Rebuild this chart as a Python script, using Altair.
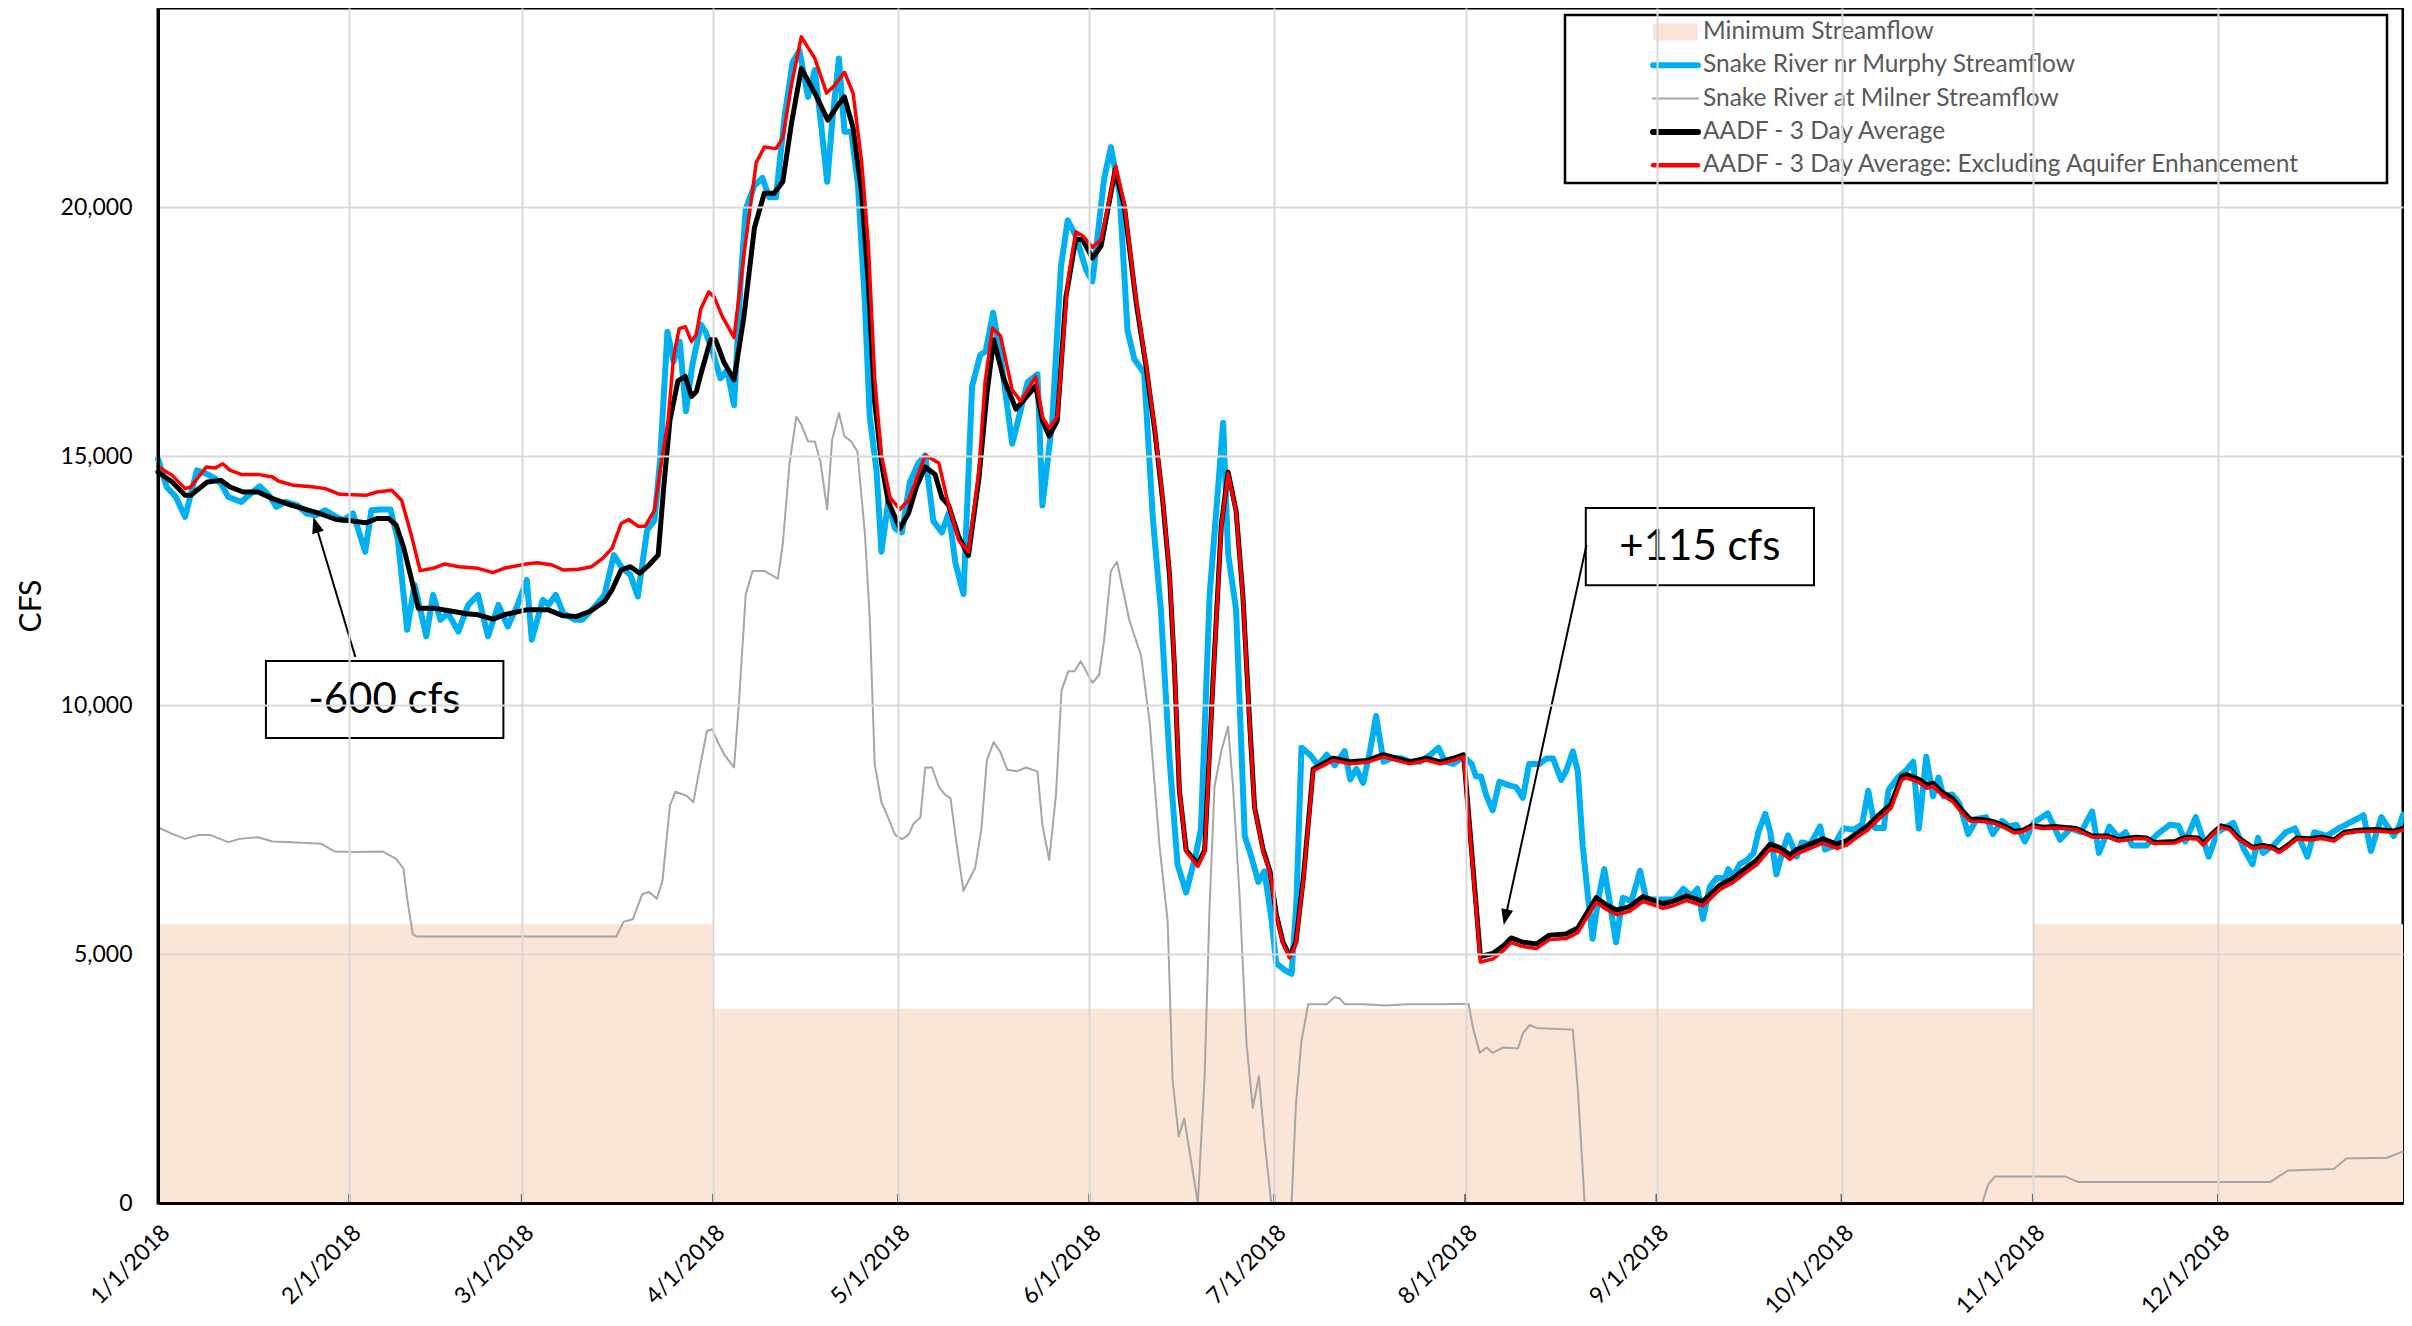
import math
import altair as alt
import pandas as pd

BASE = pd.Timestamp("2018-01-01")

# ---------------- series definitions ----------------
series_names = [
    "Minimum Streamflow",
    "Snake River nr Murphy Streamflow",
    "Snake River at Milner Streamflow",
    "AADF - 3 Day Average",
    "AADF - 3 Day Average: Excluding Aquifer Enhancement",
]
series_colors = ["#FBE5D6", "#00B0F0", "#A6A6A6", "#000000", "#FF0000"]
line_widths = [0, 6, 2, 5, 3.5]
legend_widths = [17, 6, 2, 6, 4.5]

# Minimum streamflow (step)
min_days = [0, 90, 304, 364]
min_vals = [5600, 3900, 5600, 5600]

# Snake River nr Murphy (blue)
murphy_days = [0, 1.4, 2.9, 4.4, 6.3, 7.8, 9.3, 10.2, 11.4, 13.5, 14.7, 16.5, 18, 19.2, 20.7, 22.6, 24.1, 25.6,
               27.1, 28.9, 30.1, 31.6, 32.5, 33.6, 34.6, 36.1, 37.7, 38.9, 40.4, 41.6, 43.5, 44.6, 45.8, 47, 48.7,
               50.3, 51.9, 53.5, 55.2, 56.7, 58.2, 59.8, 60.6, 62.4, 63.3, 64.5, 65.7, 67.6, 68.8, 70.6, 72.4, 73.9,
               75.1, 76.6, 77.8, 79.3, 80.5, 81.4, 82.6, 83.6, 84.6, 85.6, 86.6, 88, 88.8, 89.9, 91.2, 92.3, 93.4,
               94.5, 95.3, 96.7, 98, 99.1, 100.2, 101.6, 102.9, 104, 105.4, 106.5, 107.5, 108.5, 109.4, 110.4, 111.3,
               112.4, 113.5, 114.6, 115.4, 116.5, 117.3, 118.4, 119.5, 120.6, 121.9, 123.3, 124.4, 125.7, 127.1,
               128.2, 129.3, 130.6, 132, 133.3, 134.2, 135.4, 136.6, 138.5, 139.6, 141, 142.6, 143.4, 145, 146.4,
               147.5, 148.8, 150.5, 151.5, 153.4, 154.5, 155.9, 157.2, 158.3, 159.9, 161.3, 162.6, 164, 165.3, 166.7,
               168.3, 169.1, 170.5, 171.9, 172.7, 173.5, 174.8, 176.2, 177.3, 178.4, 179.4, 180.5, 181.3, 182.7,
               183.8, 184.6, 185.4, 186.8, 188.1, 189.5, 190.8, 192.4, 193.3, 194.3, 195.4, 196.5, 197.5, 198.7,
               200, 201.6, 203, 204.6, 206.3, 207.6, 208.7, 210, 211.7, 213, 213.7, 214.5, 215.4, 216.4, 217.5,
               219.1, 220.2, 221.3, 222.3, 224, 225.1, 226.2, 227.5, 228.3, 229.4, 230.2, 231, 231.9, 232.6, 233.5,
               234.5, 235.4, 236.4, 237.5, 238.9, 240.3, 241.3, 243, 244.3, 245.9, 247.3, 248.6, 249.6, 250.5,
               251.6, 252.7, 254.1, 254.6, 255.4, 256.5, 257.6, 258.7, 259.5, 260.6, 261.4, 262.4, 263.5, 264.3,
               265.7, 266.5, 267.9, 269.5, 270.3, 271.7, 273.3, 274.9, 276.3, 277.3, 278.4, 279.8, 280.6, 282.1,
               283.5, 284.6, 285.5, 286.7, 287.8, 288.7, 289.5, 290.9, 292.1, 293.5, 294.9, 296.4, 297.5, 299,
               300.1, 301.3, 302.7, 304.1, 306.4, 308.4, 310.1, 311.8, 313.6, 314.7, 316.4, 317.9, 319, 320.1,
               322.4, 324.2, 326.2, 327.6, 328.7, 330.4, 332.5, 333.9, 336.5, 338.2, 339.6, 340.5, 341.3, 343, 345,
               346.5, 348.5, 349.6, 351.6, 353.6, 356.5, 357.6, 358.8, 360.5, 362.5, 363.5, 364]
murphy_vals = [14950, 14380, 14180, 13780, 14713, 14647, 14547, 14447, 14180, 14080, 14213, 14393, 14213, 13980,
               14080, 14013, 13847, 13813, 13913, 13780, 13713, 13847, 13513, 13080, 13913, 13927, 13927, 13313,
               11513, 12413, 11380, 12213, 11713, 11847, 11480, 12013, 12213, 11380, 12013, 11580, 11980, 12513,
               11313, 12113, 12013, 12213, 11847, 11713, 11713, 11947, 12213, 13013, 12780, 12613, 12180, 13513,
               13713, 14913, 17500, 16900, 17300, 15900, 16800, 17647, 17492, 17105, 16563, 16718, 16022, 18576,
               19969, 20433, 20588, 20201, 20201, 21827, 22910, 23143, 22214, 22755, 21672, 20511, 21827, 22988,
               21517, 21517, 20433, 18111, 15790, 14706, 13081, 14087, 13545, 13467, 14474, 14861, 15016, 13700,
               13467, 13855, 12848, 12229, 16409, 17028, 17105, 17879, 17028, 15248, 15790, 16486, 16641, 14009,
               15712, 18808, 19737, 19427, 18731, 18510, 20568, 21206, 20284, 17517, 16949, 16665, 13756, 11911,
               8931, 6803, 6236, 7016, 7513, 12196, 14395, 15672, 13047, 11911, 7371, 6945, 6449, 6661, 5739, 4817,
               4675, 4604, 6094, 9145, 9003, 8790, 9003, 8790, 9074, 8506, 8719, 8435, 9074, 9783, 8861, 8932, 8932,
               8861, 8861, 9003, 9145, 8861, 8818, 8960, 8818, 8567, 8567, 8173, 7887, 8460, 8388, 8353, 8138, 8818,
               8818, 8926, 8926, 8496, 8675, 9069, 8675, 7171, 6096, 5308, 6096, 6705, 6025, 5237, 6132, 6060, 6669,
               6096, 6096, 6096, 6096, 6311, 6168, 6311, 5702, 6347, 6526, 6526, 6705, 6562, 6812, 6884, 7027, 7457,
               7815, 7457, 6598, 7099, 7385, 6956, 7242, 7206, 7564, 7099, 7171, 7529, 7493, 7600, 8281, 7529, 7529,
               8300, 8545, 8697, 8863, 7523, 8962, 8167, 8545, 8167, 8205, 8015, 7409, 7712, 7750, 7409, 7674, 7561,
               7598, 7258, 7636, 7826, 7295, 7523, 7447, 7864, 7030, 7561, 7333, 7447, 7182, 7182, 7409, 7598, 7576,
               7258, 7750, 6955, 7447, 7636, 7106, 6803, 7333, 7030, 7182, 7447, 7523, 6955, 7447, 7371, 7523, 7712,
               7788, 7068, 7750, 7371, 7598, 7800]

# Snake River at Milner (gray)
milner_days = [0, 2.3, 4.4, 6.6, 8.4, 11.4, 13.2, 16.2, 18.6, 21.7, 26.5, 28.6, 32.5, 36.4, 38.6, 39.8, 40.4, 41.3,
               42, 74.3, 75.5, 77, 78.5, 79.6, 80.9, 81.8, 83, 83.9, 85.7, 86.8, 87.8, 89, 89.9, 90.8, 91.8, 93.4,
               94.2, 95.3, 96.4, 98.3, 100.5, 101.3, 102.4, 103.5, 104.3, 105.4, 106.5, 107.4, 108.5, 109.3, 110.4,
               111.3, 112.4, 113.4, 114.6, 115.4, 116.2, 117.3, 118.4, 119.5, 120.6, 121.7, 122.5, 123.6, 124.4,
               125.5, 126.6, 127.6, 128.5, 129.5, 130.6, 132.5, 133.5, 134.4, 135.5, 136.6, 137.7, 139.3, 140.7,
               142.6, 143.4, 144.5, 145.6, 146.5, 147.6, 148.6, 149.6, 151.5, 152.6, 153.4, 154.5, 155.5, 157.5,
               159.4, 160.8, 162.4, 163.7, 164.5, 165.5, 166.4, 168.6, 169.7, 170.5, 171.3, 172.4, 173.5, 174.3,
               175.4, 176.5, 177.5, 178.5, 179.4, 180.5, 183.8, 184.5, 185.4, 186.5, 189.5, 190.8, 191.6, 192.4,
               195.4, 199.2, 202.5, 207.9, 212.5, 213.2, 214.3, 215.4, 216.4, 218.1, 220.5, 221.3, 222.4, 223.5,
               229.4, 230.2, 230.8, 231.3, 295.8, 296.7, 297.8, 309.3, 311.3, 342.5, 345.3, 352.8, 354.8, 361.4,
               363.7, 364]
milner_vals = [7547, 7413, 7313, 7393, 7393, 7247, 7313, 7347, 7260, 7247, 7213, 7060, 7047, 7060, 6913, 6713, 6113,
               5400, 5350, 5350, 5650, 5700, 6200, 6247, 6113, 6480, 7980, 8260, 8180, 8047, 8713, 9480, 9513, 9247,
               9009, 8746, 10062, 12229, 12693, 12693, 12539, 13235, 14861, 15790, 15635, 15294, 15294, 14892,
               13932, 15325, 15867, 15402, 15294, 15093, 13467, 11765, 8823, 8049, 7740, 7399, 7306, 7399, 7616,
               7740, 8746, 8746, 8359, 8204, 8127, 7198, 6268, 6734, 7508, 8900, 9257, 9056, 8699, 8669, 8746, 8669,
               7585, 6889, 8204, 10294, 10681, 10681, 10882, 10449, 10604, 11300, 12693, 12879, 11699, 10989, 9641,
               7158, 5668, 2475, 1340, 1695, 0, 2546, 5952, 8364, 9074, 9570, 8364, 6094, 3185, 1908, 2546, 1269, 0,
               0, 1979, 3256, 3994, 3994, 4136, 4107, 3994, 3994, 3965, 3994, 3994, 4000, 3517, 3016, 3124, 3016,
               3124, 3102, 3410, 3575, 3517, 3482, 2300, 1082, 0, 0, 363, 530, 530, 424, 424, 651, 681, 894, 909,
               1023, 1023]

# AADF - 3 Day Average (black)
aadf_days = [0, 2.3, 4.4, 5.3, 8, 10.2, 11.7, 13.8, 16.2, 18.6, 21.7, 24.1, 26.5, 28.9, 31.3, 33.7, 35.5, 37.4,
             38.6, 39.8, 41, 42.2, 44.6, 47, 50, 51.9, 54.3, 56.1, 59.7, 63.3, 65.7, 67.9, 70, 72.4, 73.6, 75.1,
             76.6, 78.1, 79.6, 81.1, 82, 83, 84.3, 85.5, 86.5, 87.3, 88, 89.6, 90.4, 91.8, 93.4, 95, 96.7, 98.3,
             99.9, 101.3, 102.7, 104.3, 106.5, 108.6, 110.3, 111.3, 112.7, 114.1, 115.2, 116.2, 117.3, 118.4, 120.3,
             121.7, 123, 124.4, 126, 127.1, 128.2, 129.8, 131.4, 133.1, 134.4, 135.5, 137.1, 139.1, 140.7, 142.3,
             143.4, 144.5, 145.8, 147.2, 148.8, 149.9, 151.5, 152.9, 155.2, 156.7, 158.6, 160.2, 161.6, 162.9, 164,
             164.8, 165.6, 166.7, 168.6, 169.7, 171, 172.4, 173.5, 174.8, 175.9, 177, 177.8, 179.2, 180.3, 181.3,
             182.4, 183.5, 184.5, 185.7, 187.3, 189.5, 190.5, 193.3, 196, 198.7, 200.8, 203, 205.7, 207.9, 210,
             211.7, 214.4, 216.4, 218.2, 219.4, 221.3, 223.5, 225.6, 228.3, 230.2, 231.6, 233.2, 234.8, 236.5,
             238.6, 240.8, 244, 245.7, 247.8, 250.5, 253.2, 255.4, 257.6, 259.2, 261.4, 263, 264.6, 265.7, 267.9,
             270, 272.2, 273.8, 275.4, 277.1, 278.9, 281, 282.7, 283.5, 285.5, 286.8, 287.8, 289.2, 290.9, 292.4,
             293.8, 296.1, 297.8, 299.5, 301, 302.4, 303.8, 305.8, 307.5, 311, 313.6, 316.1, 317.9, 320.7, 322.4,
             323.6, 327, 328.7, 330.7, 331.6, 333, 334.5, 335.9, 337.3, 339.6, 341.3, 342.8, 343.9, 345.3, 346.8,
             348.8, 350.8, 352.8, 354.5, 356.8, 359.6, 362.5, 364]
aadf_vals = [14680, 14480, 14213, 14213, 14480, 14513, 14380, 14280, 14280, 14147, 14013, 13927, 13833, 13727, 13700,
             13660, 13747, 13747, 13613, 13180, 12580, 11947, 11947, 11900, 11833, 11813, 11727, 11813, 11913, 11913,
             11793, 11780, 11880, 12080, 12313, 12713, 12780, 12647, 12813, 13013, 14380, 15713, 16512, 16600,
             16200, 16300, 16640, 17337, 17337, 16873, 16532, 17802, 19582, 20279, 20279, 20511, 21672, 22786,
             22291, 21749, 22059, 22214, 21594, 20279, 18421, 16099, 14861, 14087, 13545, 13855, 14396, 14783,
             14629, 14164, 14009, 13390, 13003, 14551, 16254, 17337, 16563, 15944, 16177, 16409, 15712, 15402,
             15712, 18189, 19350, 19350, 18978, 19220, 20750, 20000, 18084, 16807, 15530, 14111, 12621, 10776, 8294,
             7087, 6803, 7087, 10350, 13614, 14679, 13898, 12196, 9641, 7939, 7087, 6661, 5810, 5242, 4959, 5242,
             6519, 8719, 8861, 8932, 8861, 8889, 9003, 8932, 8861, 8932, 8861, 8932, 9003, 4950, 5010, 5171, 5323,
             5237, 5201, 5380, 5401, 5523, 5810, 6132, 5989, 5881, 5953, 6154, 6010, 6060, 6168, 6060, 6383, 6526,
             6741, 6884, 7206, 7135, 6992, 7099, 7206, 7314, 7206, 7278, 7421, 7565, 7780, 8010, 8567, 8606, 8508,
             8394, 8432, 8257, 8129, 7901, 7712, 7697, 7652, 7561, 7462, 7485, 7576, 7545, 7561, 7523, 7371, 7371,
             7295, 7348, 7333, 7242, 7258, 7348, 7333, 7220, 7409, 7576, 7523, 7333, 7144, 7182, 7144, 7068, 7182,
             7333, 7318, 7348, 7295, 7447, 7485, 7500, 7470, 7523]

# AADF - 3 Day Average: Excluding Aquifer Enhancement (red)
excl_days = [0, 2.3, 4.4, 5.3, 7.8, 9.3, 10.5, 11.7, 13.5, 16.2, 18.6, 19.5, 22, 25.3, 27.1, 29.5, 33.7, 35.5, 37.9,
             39.5, 41, 42.5, 44.6, 46.4, 48.8, 51.9, 54.3, 56.1, 59.7, 61.5, 63.9, 65.7, 68.2, 70.3, 72.1, 73.6,
             75.1, 76.3, 77.8, 79, 80.5, 81.4, 82.7, 83.6, 84.5, 85.5, 86.5, 87.3, 88, 89.3, 90.2, 91.5, 93.4, 95,
             97, 98.3, 100.2, 101.3, 102.7, 104.3, 106.5, 108.4, 109.7, 111.3, 112.7, 114.1, 115.2, 116.2, 117.3,
             118.7, 120.3, 121.7, 123, 124.4, 126.6, 127.9, 129.8, 131.4, 133.1, 134.1, 135.3, 136.6, 138.5, 139.9,
             142.3, 143.4, 144.5, 145.8, 147.5, 148.8, 149.9, 151.5, 152.9, 155.3, 156.7, 158.6, 160.2, 161.6,
             162.9, 164, 164.8, 165.6, 166.7, 168.6, 169.7, 171, 172.4, 173.5, 174.8, 175.9, 177, 177.8, 179.2,
             180.3, 181.3, 182.4, 183.5, 184.5, 185.7, 187.3, 189.5, 190.5, 193.3, 196, 198.7, 200.8, 203, 205.7,
             207.9, 210, 211.7, 214.4, 216.4, 218.2, 219.4, 221.3, 223.5, 225.6, 228.3, 230.2, 231.6, 233.2, 234.8,
             236.5, 238.6, 240.8, 244, 245.7, 247.8, 250.5, 253.2, 255.4, 257.6, 259.2, 261.4, 263, 264.6, 265.7,
             267.9, 270, 272.2, 273.8, 275.4, 277.1, 278.9, 281, 282.7, 283.5, 285.5, 286.8, 287.8, 289.2, 290.9,
             292.4, 293.8, 296.1, 297.8, 299.5, 301, 302.4, 303.8, 305.8, 307.5, 311, 313.6, 316.1, 317.9, 320.7,
             322.4, 323.6, 327, 328.7, 330.7, 331.6, 333, 334.5, 335.9, 337.3, 339.6, 341.3, 342.8, 343.9, 345.3,
             346.8, 348.8, 350.8, 352.8, 354.5, 356.8, 359.6, 362.5, 364]
excl_vals = [14793, 14613, 14347, 14380, 14780, 14760, 14847, 14713, 14633, 14633, 14580, 14500, 14413, 14380, 14347,
             14233, 14213, 14280, 14313, 14113, 13447, 12700, 12747, 12833, 12780, 12747, 12660, 12747, 12833,
             12860, 12813, 12713, 12727, 12780, 12947, 13147, 13647, 13727, 13593, 13593, 13913, 14713, 15713,
             17000, 17560, 17600, 17300, 17450, 17957, 18297, 18189, 17802, 17384, 19040, 20898, 21207, 21176,
             21393, 22446, 23421, 22988, 22291, 22446, 22709, 22291, 20898, 19195, 16563, 15016, 14164, 13932,
             14118, 14551, 15016, 14861, 14164, 13313, 13081, 14706, 16486, 17570, 17415, 16331, 16099, 16594,
             15790, 15557, 15790, 18498, 19505, 19427, 19195, 19350, 20821, 20050, 18130, 16850, 15570, 14150,
             12660, 10820, 8330, 7060, 6760, 7050, 10300, 13580, 14650, 13870, 12170, 9610, 7910, 7060, 6630, 5780,
             5210, 4920, 5210, 6480, 8680, 8820, 8890, 8820, 8850, 8960, 8890, 8820, 8890, 8820, 8890, 8960, 4840,
             4900, 5080, 5230, 5150, 5110, 5290, 5310, 5430, 5720, 6040, 5900, 5790, 5860, 6060, 5920, 5970, 6080,
             5970, 6290, 6440, 6650, 6790, 7110, 7050, 6900, 7010, 7120, 7230, 7120, 7190, 7340, 7480, 7700, 7930,
             8500, 8540, 8450, 8330, 8370, 8200, 8070, 7850, 7670, 7660, 7620, 7530, 7430, 7460, 7550, 7520, 7530,
             7500, 7350, 7350, 7270, 7320, 7310, 7220, 7230, 7320, 7310, 7190, 7380, 7550, 7500, 7310, 7120, 7160,
             7120, 7040, 7160, 7310, 7290, 7320, 7270, 7420, 7460, 7470, 7440, 7490]

# x-axis ticks (month starts)
tick_days = [0, 31, 59, 90, 120, 151, 181, 212, 243, 273, 304, 334]
y_ticks = [0, 5000, 10000, 15000, 20000]

# annotations
ann_text = ["-600 cfs", "+115 cfs"]
ann_text_day = [36.7, 250.0]
ann_text_val = [10110, 13172]
ann_box_day1 = [17.5, 231.5]
ann_box_day2 = [56.0, 268.5]
ann_box_val1 = [9337, 12409]
ann_box_val2 = [10883, 13956]
arrow_start_day = [32.0, 231.6]
arrow_start_val = [10964, 13213]
arrow_tip_day = [25.2, 218.2]
arrow_tip_val = [13775, 5582]

# ---------------- layout ----------------
W, H = 2245, 1195
DAYS = 364
YMAX = 24000
FONT = "Lato"

# legend box geometry (pixels, relative to the plot area)
LEG_X1, LEG_X2, LEG_Y1, LEG_Y2 = 1407, 2229, 7, 175
LEG_SYM_X1, LEG_SYM_X2, LEG_TXT_X = 1495, 1540, 1545
LEG_ROW0, LEG_ROW_STEP = 24, 33.3


def to_date(days):
    return [BASE + pd.Timedelta(days=float(d)) for d in days]


def frame(days, vals, name):
    return pd.DataFrame({"date": to_date(days), "value": vals, "series": name})


xscale = alt.Scale(domain=[alt.DateTime(year=2018, month=1, date=1),
                           alt.DateTime(year=2018, month=12, date=31)])
yscale = alt.Scale(domain=[0, YMAX], nice=False)

xaxis = alt.Axis(
    values=[alt.DateTime(year=2018, month=m, date=1) for m in range(1, 13)],
    format="%-m/%-d/%Y", labelAngle=315, labelFont=FONT, labelFontSize=23,
    labelColor="#000000", labelPadding=18, ticks=False, tickSize=0,
    domainColor="#000000", domainWidth=3, grid=True, gridColor="#D9D9D9",
    gridWidth=2, title=None, zindex=1, labelOverlap=False,
)
yaxis = alt.Axis(
    values=y_ticks, format=",.0f", labelFont=FONT, labelFontSize=23,
    labelColor="#000000", labelPadding=26, ticks=False, tickSize=0,
    domainColor="#000000", domainWidth=3, grid=True, gridColor="#D9D9D9",
    gridWidth=2, title="CFS", titleFont=FONT, titleFontSize=30,
    titleFontWeight="normal", titleColor="#000000", titleX=-127, titleY=H / 2,
    titleAlign="center", titleBaseline="middle", titleAngle=270, zindex=1,
)


def X(field="date"):
    return alt.X(f"{field}:T", scale=xscale, axis=xaxis)


def Y(field="value"):
    return alt.Y(f"{field}:Q", scale=yscale, axis=yaxis)


# ---------------- data layers ----------------
area = alt.Chart(frame(min_days, min_vals, series_names[0])).mark_area(
    color=series_colors[0], interpolate="step-after", opacity=1
).encode(x=X(), y=Y())

ticks = alt.Chart(pd.DataFrame({"date": to_date(tick_days)})).mark_rule(
    color="#000000", strokeWidth=2
).encode(x=X(), y=alt.value(H), y2=alt.value(H - 9))


def line(days, vals, idx):
    return alt.Chart(frame(days, vals, series_names[idx])).mark_line(
        color=series_colors[idx], strokeWidth=line_widths[idx],
        strokeJoin="round", strokeCap="round"
    ).encode(x=X(), y=Y())


gray = line(milner_days, milner_vals, 2)
blue = line(murphy_days, murphy_vals, 1)
black = line(aadf_days, aadf_vals, 3)
red = line(excl_days, excl_vals, 4)

# ---------------- annotations ----------------
boxes_df = pd.DataFrame({
    "d1": to_date(ann_box_day1), "d2": to_date(ann_box_day2),
    "v1": ann_box_val1, "v2": ann_box_val2,
})
boxes = alt.Chart(boxes_df).mark_rect(
    fill="#FFFFFF", stroke="#000000", strokeWidth=2
).encode(x=X("d1"), x2="d2:T", y=Y("v1"), y2="v2:Q")

text_df = pd.DataFrame({"date": to_date(ann_text_day), "value": ann_text_val, "label": ann_text})
texts = alt.Chart(text_df).mark_text(
    font=FONT, fontSize=42, color="#000000", align="center", baseline="middle"
).encode(x=X(), y=Y(), text="label:N")

ppd = W / DAYS
ppv = H / YMAX
HEAD = 16
head_day, head_val, shaft_day, shaft_val, head_ang = [], [], [], [], []
for sd, sv, td, tv in zip(arrow_start_day, arrow_start_val, arrow_tip_day, arrow_tip_val):
    dx = (td - sd) * ppd
    dy = -(tv - sv) * ppv
    ln = math.hypot(dx, dy)
    ux, uy = dx / ln, dy / ln
    head_ang.append(math.degrees(math.atan2(ux, -uy)) % 360)
    head_day.append(td - ux * (HEAD / 2) / ppd)
    head_val.append(tv + uy * (HEAD / 2) / ppv)
    shaft_day.append(td - ux * (HEAD * 0.6) / ppd)
    shaft_val.append(tv + uy * (HEAD * 0.6) / ppv)

shaft_df = pd.DataFrame({
    "d1": to_date(arrow_start_day), "v1": arrow_start_val,
    "d2": to_date(shaft_day), "v2": shaft_val,
})
shafts = alt.Chart(shaft_df).mark_rule(color="#000000", strokeWidth=2).encode(
    x=X("d1"), x2="d2:T", y=Y("v1"), y2="v2:Q"
)
heads_df = pd.DataFrame({"date": to_date(head_day), "value": head_val, "ang": head_ang})
heads = alt.Chart(heads_df).mark_point(
    shape="M0,-1L0.75,1L-0.75,1Z", filled=True, color="#000000", size=256, opacity=1
).encode(x=X(), y=Y(), angle=alt.Angle("ang:Q", scale=None))

# ---------------- legend (drawn box with one entry per series) ----------------
one = pd.DataFrame({"k": [0]})
legend_layers = [
    alt.Chart(one).mark_rect(fill="#FFFFFF", stroke="#000000", strokeWidth=2.5).encode(
        x=alt.value(LEG_X1), x2=alt.value(LEG_X2), y=alt.value(LEG_Y1), y2=alt.value(LEG_Y2)
    )
]
for i, name in enumerate(series_names):
    yc = LEG_ROW0 + i * LEG_ROW_STEP
    entry = pd.DataFrame({"series": [name]})
    if i == 0:
        sym = alt.Chart(entry).mark_rect(color=series_colors[i]).encode(
            x=alt.value(LEG_SYM_X1), x2=alt.value(LEG_SYM_X2),
            y=alt.value(yc - legend_widths[i] / 2), y2=alt.value(yc + legend_widths[i] / 2),
        )
    else:
        sym = alt.Chart(entry).mark_rule(
            color=series_colors[i], strokeWidth=legend_widths[i], strokeCap="round"
        ).encode(
            x=alt.value(LEG_SYM_X1), x2=alt.value(LEG_SYM_X2),
            y=alt.value(yc),
        )
    lab = alt.Chart(entry).mark_text(
        font=FONT, fontSize=24.5, color="#595959", align="left", baseline="middle"
    ).encode(x=alt.value(LEG_TXT_X), y=alt.value(yc), text="series:N")
    legend_layers += [sym, lab]

chart = alt.layer(
    area, ticks, gray, blue, black, red, boxes, texts, shafts, heads, *legend_layers
).properties(
    width=W, height=H, background="#FFFFFF",
    autosize=alt.AutoSizeParams(type="none"),
    padding={"left": 150, "top": 0, "right": 1, "bottom": 115},
).configure_view(
    stroke="#000000", strokeWidth=3
)

chart.save("out.html", embed_options={"renderer": "svg", "actions": False})
